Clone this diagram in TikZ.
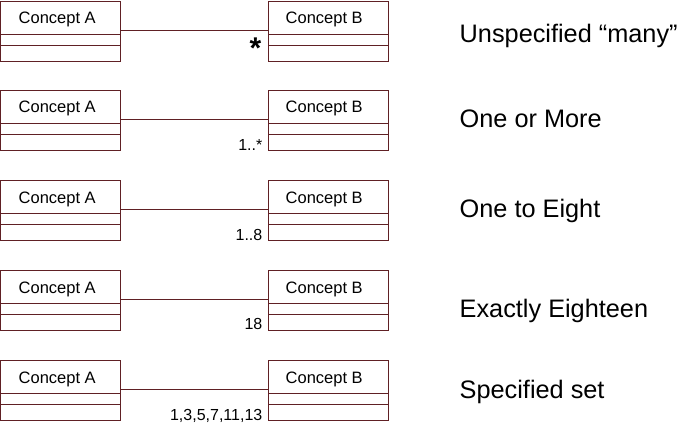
\documentclass[tikz,border=0pt]{standalone}
\usepackage{fontspec}
\setmainfont{Liberation Sans}
\definecolor{umlline}{RGB}{96,32,36}
\begin{document}
\begin{tikzpicture}[x=1pt,y=-1pt,
  box/.style={draw=umlline, line width=0.9pt, minimum width=120pt, minimum height=60pt, inner sep=0pt, outer sep=0pt, anchor=north west},
  boxtext/.style={anchor=base west, inner sep=0pt, font=\fontsize{16.5}{18}\selectfont},
  conn/.style={draw=umlline, line width=0.9pt},
  mult/.style={anchor=base east, inner sep=0pt, font=\fontsize{16}{18}\selectfont},
  rowlabel/.style={anchor=base west, inner sep=0pt, font=\fontsize{25.3}{28}\selectfont}]
\useasboundingbox (0,0) rectangle (688,425);
% rows
\foreach \r/\t in {1/1,2/90,3/180,4/270,5/360}{
  \node[box] (a\r) at (0.5,\t) {};
  \node[box] (b\r) at (268.5,\t) {};
  \node[boxtext] (at\r) at (18.5,\t+23) {Concept A};
  \node[boxtext] (bt\r) at (285.5,\t+23) {Concept B};
  \draw[umlline, line width=0.9pt] (a\r.north west) ++(0,33) -- ++(120,0);
  \draw[umlline, line width=0.9pt] (a\r.north west) ++(0,44) -- ++(120,0);
  \draw[umlline, line width=0.9pt] (b\r.north west) ++(0,33) -- ++(120,0);
  \draw[umlline, line width=0.9pt] (b\r.north west) ++(0,44) -- ++(120,0);
  \draw[conn] ([yshift=1pt]a\r.east) -- ([yshift=1pt]b\r.west);
}
% multiplicities
\node[anchor=base, inner sep=0pt, font=\bfseries\fontsize{30}{32}\selectfont] (m1) at (255.5,58.5) {*};
\node[mult] (m2) at (262.5,150) {1..*};
\node[mult] (m3) at (262.5,240) {1..8};
\node[mult] (m4) at (262.5,329.5) {18};
\node[mult] (m5) at (262.5,420) {1,3,5,7,11,13};
% row labels
\node[rowlabel] (l1) at (459.5,42.3) {Unspecified “many”};
\node[rowlabel] (l2) at (459.5,127.7) {One or More};
\node[rowlabel] (l3) at (459.5,217.7) {One to Eight};
\node[rowlabel] (l4) at (459.5,317.3) {Exactly Eighteen};
\node[rowlabel] (l5) at (459.5,398.3) {Specified set};
\end{tikzpicture}
\end{document}
